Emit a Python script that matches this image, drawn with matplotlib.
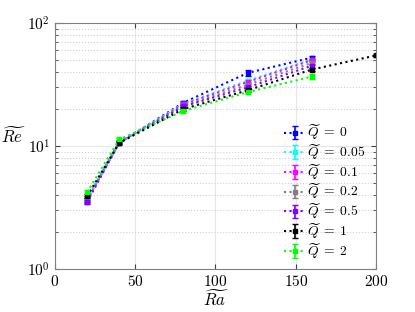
import matplotlib
matplotlib.use("Agg")
import matplotlib.pyplot as plt

plt.rcParams['mathtext.fontset'] = 'cm'
plt.rcParams['font.family'] = 'serif'
plt.rcParams['font.serif'] = ['cmr10', 'DejaVu Serif']
plt.rcParams['axes.formatter.use_mathtext'] = True

# Données
ra = [20, 40, 80, 120, 160]
re_q0 = [3.7, 10.6, 22.5, 39.3, 52.4]
re_q005 = [3.7, 10.7, 22.0, 34.0, 50.5]
re_q01 = [3.6, 10.7, 21.8, 33.2, 50.0]
re_q02 = [3.6, 10.8, 21.2, 31.5, 47.5]
re_q05 = [3.5, 10.6, 21.0, 30.0, 45.0]
ra_q1 = [20, 40, 80, 120, 160, 200]
re_q1 = [3.9, 10.6, 20.0, 28.4, 41.9, 54.5]
re_q2 = [4.2, 11.3, 19.3, 27.4, 36.7]

err_q0 = [0.2, 0.3, 0.8, 2.0, 2.0]
err_small = [0.15, 0.3, 0.6, 1.0, 1.5]
err_q1 = [0.15, 0.3, 0.6, 1.0, 1.5, 1.5]

series = [
    (ra, re_q0, err_q0, '#0000ff', r'$\widetilde{Q}\;=\;0$'),
    (ra, re_q005, err_small, '#00ffff', r'$\widetilde{Q}\;=\;0.05$'),
    (ra, re_q01, err_small, '#ff00ff', r'$\widetilde{Q}\;=\;0.1$'),
    (ra, re_q02, err_small, '#808080', r'$\widetilde{Q}\;=\;0.2$'),
    (ra, re_q05, err_small, '#8000ff', r'$\widetilde{Q}\;=\;0.5$'),
    (ra_q1, re_q1, err_q1, '#000000', r'$\widetilde{Q}\;=\;1$'),
    (ra, re_q2, err_small, '#00ff00', r'$\widetilde{Q}\;=\;2$'),
]

fig = plt.figure(figsize=(4.15, 3.12), dpi=100)
ax = fig.add_axes([0.1325, 0.138, 0.7735, 0.788])

for x, y, e, c, lab in series:
    ax.errorbar(x, y, yerr=e, color=c, ls=':', lw=1.5, marker='s', ms=3,
                capsize=2, elinewidth=1.2, label=lab)

ax.set_yscale('log')
ax.set_xlim(0, 200)
ax.set_ylim(1, 100)
ax.set_xticks([0, 50, 100, 150, 200])
ax.grid(True, which='major', color='#e6e6e6', lw=0.8)
ax.grid(True, which='minor', axis='y', color='#d0d0d0', ls=':', lw=0.8)
ax.tick_params(which='both', direction='in', top=True, right=True,
               colors='#404040', labelcolor='black', labelsize=11)
for s in ax.spines.values():
    s.set_color('#808080')

ax.set_xlabel(r'$\widetilde{Ra}$', fontsize=12, labelpad=0)
ax.set_ylabel(r'$\widetilde{Re}$', fontsize=12, rotation=0)
ax.yaxis.set_label_coords(-0.13, 0.5)

ax.legend(loc='lower right', frameon=False, fontsize=9.8, handlelength=1.5,
          handletextpad=0.15, labelspacing=0.0, borderaxespad=0.4,
          bbox_to_anchor=(1.0, -0.01))

fig.savefig('out.png', dpi=100)
